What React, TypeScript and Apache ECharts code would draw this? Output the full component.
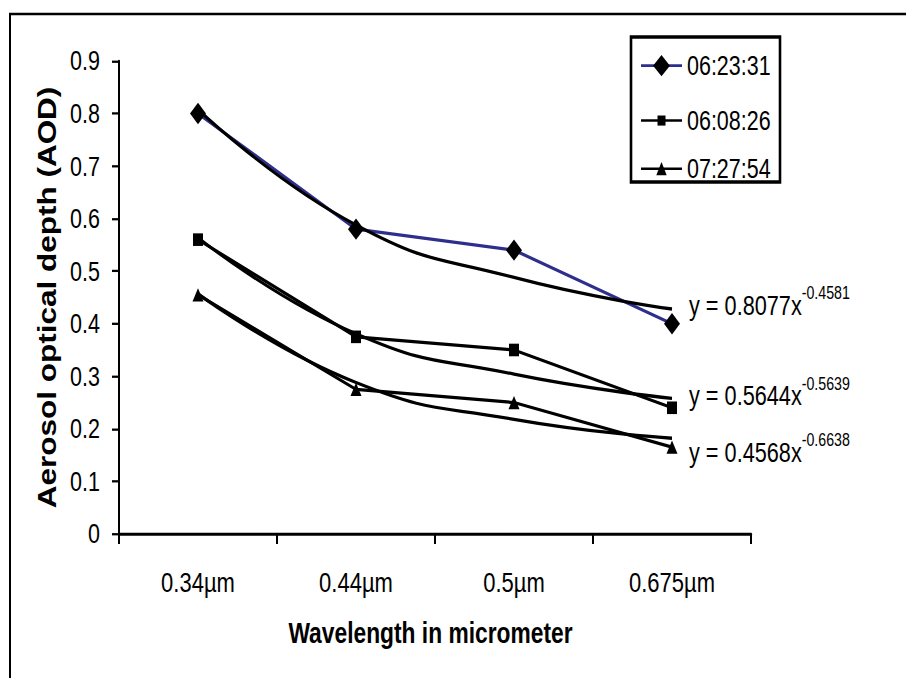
import React, { useEffect, useRef } from "react";
import * as echarts from "echarts";

const categories = ["0.34µm", "0.44µm", "0.5µm", "0.675µm"];
const seriesNames = ["06:23:31", "06:08:26", "07:27:54"];
const aod0623 = [0.8, 0.58, 0.54, 0.4];
const aod0608 = [0.56, 0.375, 0.35, 0.24];
const aod0727 = [0.455, 0.275, 0.25, 0.165];
const trend0623 = [0.808, 0.588, 0.488, 0.428];
const trend0608 = [0.564, 0.381, 0.304, 0.258];
const trend0727 = [0.457, 0.288, 0.218, 0.182];
const eqCoef = ["0.8077", "0.5644", "0.4568"];
const eqExp = ["-0.4581", "-0.5639", "-0.6638"];
const yMin = 0;
const yMax = 0.9;
const yStep = 0.1;

// The original figure is vertically stretched; reproduce it with a CSS scaleY.
const S = 1.26;
const W = 906;
const H = 678;
const FONT = "'Liberation Sans', Arial, sans-serif";

export default function App() {
  const ref = useRef<HTMLDivElement>(null);
  useEffect(() => {
    if (!ref.current) return;
    const chart = echarts.init(ref.current, null, { renderer: "svg" });
    const rich = {
      a: { fontSize: 21.7, fontFamily: FONT, color: "#000", lineHeight: 24, verticalAlign: "bottom" },
      b: { fontSize: 14.2, fontFamily: FONT, color: "#000", lineHeight: 15, verticalAlign: "bottom", padding: [0, 0, 14, 0] },
    };
    const trendSeries = (data: number[], i: number, dy: number) => ({
      type: "line",
      name: "trend" + i,
      data,
      smooth: 0.5,
      symbol: "none",
      lineStyle: { color: "#000", width: 2.6 },
      z: 3,
      endLabel: {
        show: true,
        distance: 0,
        offset: [17, dy],
        formatter: () => `{a|y = ${eqCoef[i]}x}{b|${eqExp[i]}}`,
        rich,
      },
    });
    const legendItem = (name: string, centerRef: number, h: number) => ({
      data: [name],
      left: 640,
      top: centerRef / S - h / 2,
      padding: 0,
      itemWidth: 41,
      itemHeight: h,
      selectedMode: false,
      textStyle: { fontSize: 21.5, fontFamily: FONT, color: "#000", lineHeight: 22 },
    });
    chart.setOption({
      animation: false,
      backgroundColor: "#fff",
      grid: { left: 119, right: W - 751, top: 61 / S, bottom: (H - 534) / S, containLabel: false },
      legend: [
        legendItem(seriesNames[0], 65, 21),
        legendItem(seriesNames[1], 113, 10),
        legendItem(seriesNames[2], 163, 13),
      ],
      graphic: [
        { type: "rect", shape: { x: 10, y: 14 / S, width: 1000, height: 1000 }, style: { fill: "transparent", stroke: "#000", lineWidth: 2 }, z: 0, silent: true },
        { type: "rect", shape: { x: 631, y: 37 / S, width: 149, height: 145 / S }, style: { fill: "transparent", stroke: "#000", lineWidth: 2.6 }, z: 0, silent: true },
      ],
      xAxis: {
        type: "category",
        data: categories,
        boundaryGap: true,
        name: "Wavelength in micrometer",
        nameLocation: "middle",
        nameGap: 67.5,
        nameTextStyle: { fontSize: 22.8, fontWeight: "bold", fontFamily: FONT, color: "#000", padding: [0, 9, 0, 0] },
        axisLine: { lineStyle: { color: "#000", width: 2.2 } },
        axisTick: { show: true, length: 8, lineStyle: { color: "#000", width: 2 } },
        axisLabel: { fontSize: 22, fontFamily: FONT, color: "#000", margin: 27, lineHeight: 22 },
        splitLine: { show: false },
      },
      yAxis: {
        type: "value",
        min: yMin,
        max: yMax,
        interval: yStep,
        name: "Aerosol optical depth (AOD)",
        nameLocation: "middle",
        nameGap: 55,
        nameTextStyle: { fontSize: 25, fontWeight: "bold", fontFamily: FONT, color: "#000" },
        axisLine: { show: true, lineStyle: { color: "#000", width: 2 } },
        axisTick: { show: true, length: 7, lineStyle: { color: "#000", width: 1.8 } },
        axisLabel: { fontSize: 21.5, fontFamily: FONT, color: "#000", margin: 19 },
        splitLine: { show: false },
      },
      series: [
        {
          type: "line",
          name: seriesNames[0],
          data: aod0623,
          symbol: "diamond",
          symbolSize: [16, 17],
          lineStyle: { color: "#2E2E8C", width: 2.6 },
          itemStyle: { color: "#000" },
          z: 2,
        },
        {
          type: "line",
          name: seriesNames[1],
          data: aod0608,
          symbol: "rect",
          symbolSize: [10, 10],
          lineStyle: { color: "#000", width: 2.6 },
          itemStyle: { color: "#000" },
          z: 2,
        },
        {
          type: "line",
          name: seriesNames[2],
          data: aod0727,
          symbol: "triangle",
          symbolSize: [11, 10.5],
          lineStyle: { color: "#000", width: 2.6 },
          itemStyle: { color: "#000" },
          z: 2,
        },
        trendSeries(trend0623, 0, -4),
        trendSeries(trend0608, 1, -3),
        trendSeries(trend0727, 2, 10),
      ],
    });
    return () => chart.dispose();
  }, []);
  return (
    <div
      ref={ref}
      style={{
        position: "absolute",
        left: 0,
        top: 0,
        width: W,
        height: H / S,
        transform: `scaleY(${S})`,
        transformOrigin: "0 0",
      }}
    />
  );
}
